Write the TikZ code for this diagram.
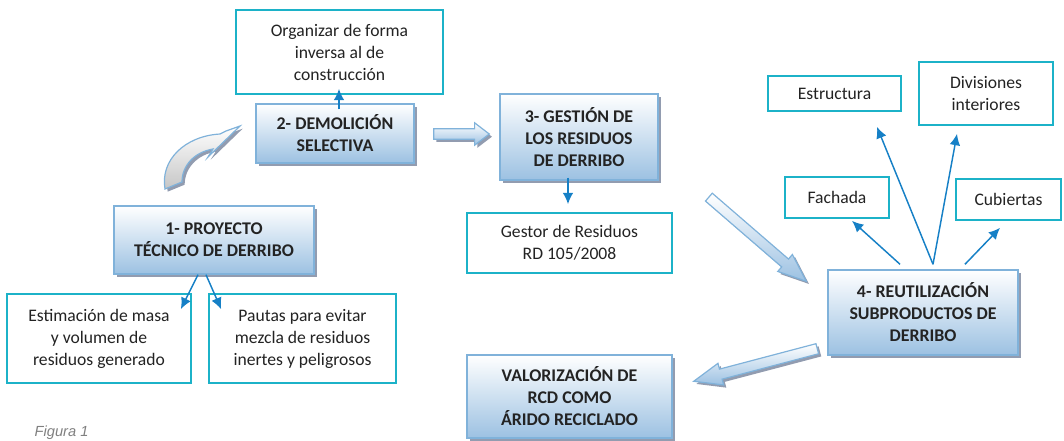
\documentclass[tikz,border=0pt]{standalone}
\usepackage{fontspec}
\setmainfont{Carlito}
\newfontfamily\figfont{Liberation Sans}
\usepackage{tikz}
\usetikzlibrary{calc,shadows,arrows.meta}

\definecolor{boxteal}{RGB}{28,178,200}
\definecolor{phaseblue}{RGB}{156,193,226}
\definecolor{phaseline}{RGB}{128,178,218}
\definecolor{shadowgray}{RGB}{146,156,176}
\definecolor{linkblue}{RGB}{22,128,198}
\definecolor{textdark}{RGB}{35,35,35}

% block arrow: tail, tip, head length
\newcommand{\blockarrow}[3]{%
  \coordinate (ba-b) at ($(#2)!#3!(#1)$);
  \path[blockarr]
    ($(#1)!3.9pt!90:(#2)$) -- ($(ba-b)!3.9pt!90:(#2)$) -- ($(ba-b)!8.4pt!90:(#2)$)
    -- (#2) -- ($(ba-b)!8.4pt!-90:(#2)$) -- ($(ba-b)!3.9pt!-90:(#2)$)
    -- ($(#1)!3.9pt!-90:(#2)$) -- cycle;
}

\begin{document}
\begin{tikzpicture}[x=0.75pt,y=-0.75pt,>={Latex[length=8.5pt,width=8pt]},
  every node/.style={text=textdark,font=\fontsize{13.2}{16.5}\selectfont},
  phase/.style={draw=phaseline,line width=1.1pt,top color=white,bottom color=phaseblue,
    drop shadow={shadow xshift=2.5pt,shadow yshift=-2.5pt,fill=shadowgray,opacity=1},
    font=\fontsize{13.4}{16.5}\selectfont\bfseries,align=center,inner sep=0pt},
  note/.style={draw=boxteal,line width=1.3pt,fill=white,align=center,inner sep=0pt},
  link/.style={->,draw=linkblue,line width=1.1pt},
  blockarr/.style={draw=phaseline,line width=0.9pt,top color=white,bottom color=phaseblue,
    drop shadow={shadow xshift=2pt,shadow yshift=-2pt,fill=shadowgray,opacity=1}}]
\useasboundingbox (0,0) rectangle (1064,440);

%phase 1 and its notes
\node[phase,minimum width=150pt,minimum height=51pt] (proyecto) at (214,240)
     {1- PROYECTO\\TÉCNICO DE DERRIBO};
\node[note,minimum width=138pt,minimum height=66.75pt] (masa) at (99,338.5)
     {Estimación de masa\\y volumen de\\residuos generado};
\node[note,minimum width=140.25pt,minimum height=66.75pt] (pautas) at (302.5,338.5)
     {Pautas para evitar\\mezcla de residuos\\inertes y peligrosos};
\draw[link] ([xshift=-12pt]proyecto.south) -- ([shift={(-11,16)}]masa.north east);
\draw[link] ([xshift=-6pt]proyecto.south) -- ([shift={(13,16)}]pautas.north west);

%phase 2
\node[phase,minimum width=118.5pt,minimum height=44.25pt] (demol) at (335,133.5)
     {2- DEMOLICIÓN\\SELECTIVA};
\node[note,minimum width=155.25pt,minimum height=63pt] (organizar) at (339.5,52)
     {Organizar de forma\\inversa al de\\construcción};
\draw[link] ([shift={(4,6)}]demol.north) -- ([shift={(4,-6)}]demol.north |- organizar.south);

%curved arrow from 1 to 2
\path[draw=phaseline,line width=0.9pt,top color=white,bottom color=gray!45,
      drop shadow={shadow xshift=2pt,shadow yshift=-2pt,fill=shadowgray,opacity=1}]
  (165,189) .. controls (160,160) and (185,136) .. (220,134) -- (226,131) -- (240,126)
  -- (208,157) -- (213,149) .. controls (195,152) and (182,165) .. (182,182) -- cycle;

%phase 3
\node[phase,minimum width=118.5pt,minimum height=64.5pt] (gestion) at (579,137)
     {3- GESTIÓN DE\\LOS RESIDUOS\\DE DERRIBO};
\node[note,minimum width=153.75pt,minimum height=45pt] (gestor) at (569.5,243)
     {Gestor de Residuos\\RD 105/2008};
\draw[link] ([shift={(-11,-3)}]gestion.south) -- ([shift={(-11,-8)}]gestion.south |- gestor.north);

%phase 4 and reused parts
\node[phase,minimum width=142.5pt,minimum height=63.75pt] (reutil) at (923,312.5)
     {4- REUTILIZACIÓN\\SUBPRODUCTOS DE\\DERRIBO};
\node[note,minimum width=99.75pt,minimum height=26.25pt] (estructura) at (834.5,93.5) {Estructura};
\node[note,minimum width=100.5pt,minimum height=47.25pt] (divisiones) at (986,93.5) {Divisiones\\interiores};
\node[note,minimum width=78pt,minimum height=30.75pt] (fachada) at (837,197.5) {Fachada};
\node[note,minimum width=78.75pt,minimum height=30.75pt] (cubiertas) at (1008.5,199.5) {Cubiertas};
\draw[link] ([shift={(-23,-5)}]reutil.north) -- ([shift={(15,2)}]fachada.south);
\draw[link] ([shift={(10,-5)}]reutil.north) -- ([shift={(42.5,15)}]estructura.south);
\draw[link] ([shift={(10,-5)}]reutil.north) -- ([shift={(-29,8)}]divisiones.south);
\draw[link] ([shift={(42,-5)}]reutil.north) -- ([shift={(-8.5,7)}]cubiertas.south);

%final step
\node[phase,minimum width=153.75pt,minimum height=62.25pt] (valor) at (569.5,396.5)
     {VALORIZACIÓN DE\\RCD COMO\\ÁRIDO RECICLADO};

%block arrows
\coordinate (d2g-a) at ($(demol.east)+(19,0.5)$);
\coordinate (d2g-b) at ($(gestion.west)+(-10,-3)$);
\coordinate (g2r-a) at ($(gestor.north east)+(36,-15)$);
\coordinate (g2r-b) at ($(reutil.north west)+(-21,12)$);
\coordinate (r2v-a) at ($(reutil.south west)+(-10,-7)$);
\coordinate (r2v-b) at ($(valor.north east)+(21,27)$);
\blockarrow{d2g-a}{d2g-b}{11pt}
\blockarrow{g2r-a}{g2r-b}{21pt}
\blockarrow{r2v-a}{r2v-b}{21pt}

%caption
\node[anchor=base west,font=\figfont\fontsize{11}{13}\selectfont\itshape,text=gray] (figura)
     at (30,436) {Figura 1};
\end{tikzpicture}
\end{document}
